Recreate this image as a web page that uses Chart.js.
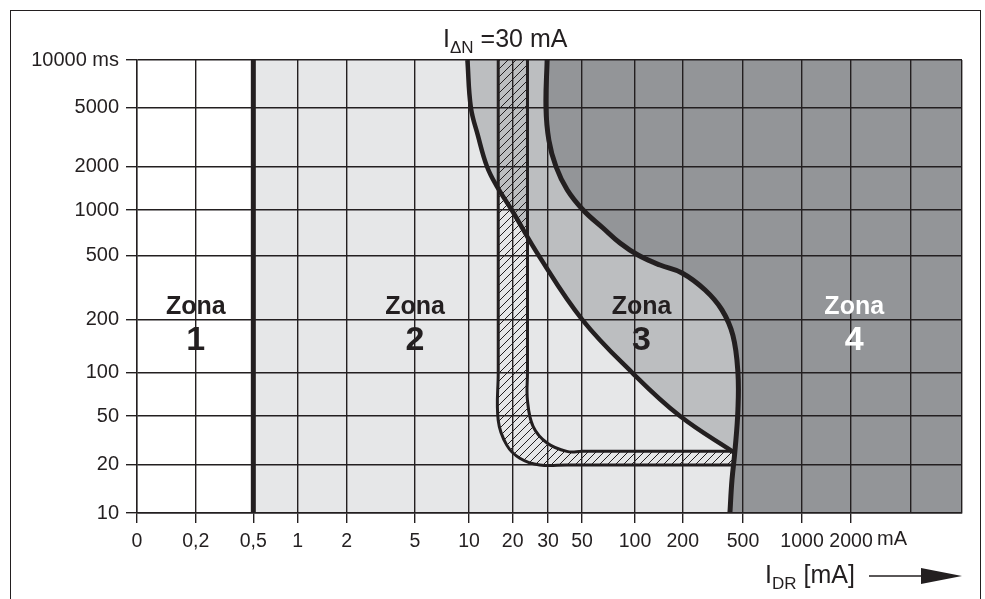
<!DOCTYPE html>
<html>
<head>
<meta charset="utf-8">
<script src="https://cdn.jsdelivr.net/npm/chart.js@4.4.1/dist/chart.umd.min.js"></script>
<style>
  html, body { margin: 0; padding: 0; background: #fff; overflow: hidden; }
  #wrap { position: relative; width: 985px; height: 599px; }
  #frame { position: absolute; left: 10px; top: 10px; width: 971px; height: 620px;
           border: 1.5px solid #231f20; box-sizing: border-box; }
  #c { position: absolute; left: 0; top: 0; }
  .lbl { position: absolute; font-family: "Liberation Sans", Arial, sans-serif; color: #231f20;
         white-space: nowrap; font-size: 25px; line-height: 25px; }
  .lbl .s { font-size: 17px; position: relative; top: 6px; }
</style>
</head>
<body>
<div id="wrap">
  <div id="frame"></div>
  <canvas id="c" width="985" height="599"></canvas>
  <div class="lbl" id="title" style="left:443px; top:26px;">I<span class="s">ΔN</span> =30 mA</div>
  <div class="lbl" id="xtitle" style="left:765px; top:562px;">I<span class="s">DR</span> [mA]</div>
</div>
<script>
// axis ticks (mA on x, ms on y)
const xTicks = [0, 0.2, 0.5, 1, 2, 5, 10, 20, 30, 50, 100, 200, 500, 1000, 2000, 5000, 10000];
const xLabels = ['0', '0,2', '0,5', '1', '2', '5', '10', '20', '30', '50', '100', '200', '500', '1000', '2000', '', ''];
const xUnit = 'mA';
const yTicks = [10, 20, 50, 100, 200, 500, 1000, 2000, 5000, 10000];
const yLabels = ['10', '20', '50', '100', '200', '500', '1000', '2000', '5000', '10000 ms'];

// zone 1 / zone 2 limit
const zoneLimit = 0.5;

// boundary zone 2 / zone 3
const curveB = [
  {x: 9.8, y: 10000}, {x: 10.3, y: 5000}, {x: 11.5, y: 3250}, {x: 13.3, y: 2000},
  {x: 15.6, y: 1450}, {x: 19.7, y: 1000}, {x: 27, y: 500}, {x: 50, y: 200},
  {x: 96, y: 100}, {x: 192, y: 50}, {x: 443, y: 25}
];

// boundary zone 3 / zone 4
const curveC = [
  {x: 29.7, y: 10000}, {x: 29.3, y: 5000}, {x: 30.4, y: 3000}, {x: 33.8, y: 2000},
  {x: 40, y: 1380}, {x: 50.7, y: 1000}, {x: 65.8, y: 761}, {x: 82.2, y: 606},
  {x: 104.4, y: 505}, {x: 143.8, y: 437}, {x: 197.9, y: 390}, {x: 281, y: 305},
  {x: 363, y: 229}, {x: 429, y: 162}, {x: 463, y: 100}, {x: 463, y: 55},
  {x: 443, y: 26.4}, {x: 423, y: 16.1}, {x: 410, y: 10}
];

// hatched band (tripping range of the 30 mA device)
const bandOuter = [
  {x: 15.9, y: 10000}, {x: 15.9, y: 100}, {x: 15.9, y: 46}, {x: 18.2, y: 29},
  {x: 21.7, y: 22.7}, {x: 27.3, y: 20}, {x: 40, y: 20}, {x: 100, y: 20}, {x: 440, y: 20}
];
const bandInner = [
  {x: 23.7, y: 10000}, {x: 23.7, y: 100}, {x: 23.7, y: 64}, {x: 25.3, y: 41},
  {x: 29.8, y: 30}, {x: 39.8, y: 25.8}, {x: 50, y: 25.8}, {x: 100, y: 25.8}, {x: 440, y: 25.8}
];

const zoneNames = ['1', '2', '3', '4'];
const zoneLabelX = [0.2, 5, 110, 2100];
const zoneLabelY = 200;

const ink = '#231f20';
const family = '"Liberation Sans", Arial, sans-serif';
const grays = { zone2: '#e6e7e8', zone3: '#bcbec0', zone4: '#939598' };

// scale that follows the printed (uneven) grid of the original chart
class GridMapScale extends Chart.LinearScale {
  static id = 'gridmap';
  static defaults = {};

  determineDataLimits() {
    const v = this.options.values;
    this.min = v[0];
    this.max = v[v.length - 1];
  }

  buildTicks() {
    return this.options.values.map(value => ({ value }));
  }

  mapValue(value) {
    const v = this.options.values, p = this.options.positions;
    let i = 0;
    while (i < v.length - 2 && value > v[i + 1]) i++;
    const a = v[i], b = v[i + 1];
    const t = a > 0 ? Math.log(value / a) / Math.log(b / a) : (value - a) / (b - a);
    return p[i] + t * (p[i + 1] - p[i]);
  }

  getPixelForValue(value) {
    return this.getPixelForDecimal(this.mapValue(value));
  }
}
Chart.register(GridMapScale);

function hatchPattern() {
  const c = document.createElement('canvas');
  c.width = 8; c.height = 8;
  const g = c.getContext('2d');
  g.strokeStyle = ink;
  g.lineWidth = 1;
  g.beginPath();
  g.moveTo(-1, 9); g.lineTo(9, -1);
  g.stroke();
  return g.createPattern(c, 'repeat');
}

// closed shapes for the zone fills (corner points doubled so they stay sharp)
const last = arr => arr[arr.length - 1];
const zone2Shape = [{x: zoneLimit, y: 10}, {x: zoneLimit, y: 10000}, {x: 10000, y: 10000}, {x: 10000, y: 10}];
const zone3Shape = [...curveB, last(curveB), {x: 10000, y: 25}, {x: 10000, y: 10000}];
const zone4Shape = [...curveC, last(curveC), {x: 10000, y: 10}, {x: 10000, y: 10000}];
const bandShape = [...bandOuter, last(bandOuter), last(bandInner), ...bandInner.slice().reverse()];

function stroke(data, width, order, tension) {
  return {
    data, order, borderColor: ink, borderWidth: width, showLine: true,
    pointRadius: 0, tension: tension, fill: false, clip: 0
  };
}
function area(data, color, order, tension) {
  return {
    data, order, backgroundColor: color, borderColor: 'rgba(0,0,0,0)', borderWidth: 0,
    showLine: true, pointRadius: 0, tension: tension, fill: 'shape', clip: 0
  };
}

const overlay = {
  id: 'overlay',
  afterDraw(chart) {
    const { ctx, chartArea } = chart;
    const x = chart.scales.x, y = chart.scales.y;
    ctx.save();
    ctx.textAlign = 'center';
    ctx.textBaseline = 'alphabetic';
    zoneNames.forEach((name, i) => {
      const px = x.getPixelForValue(zoneLabelX[i]);
      const py = y.getPixelForValue(zoneLabelY);
      ctx.fillStyle = i === 3 ? '#ffffff' : ink;
      ctx.font = 'bold 25px ' + family;
      ctx.fillText('Zona', px, py - 5);
      ctx.font = 'bold 34px ' + family;
      ctx.fillText(name, px, py + 31);
    });

    // unit written after the last tick label
    ctx.fillStyle = ink;
    ctx.font = '20px ' + family;
    ctx.textAlign = 'left';
    ctx.textBaseline = 'top';
    ctx.fillText(xUnit, x.getPixelForValue(2000) + 26, x.top + x.options.grid.tickLength + x.options.ticks.padding - 1);

    // arrow next to the axis title
    const ay = 576, r = chartArea.right;
    ctx.strokeStyle = ink;
    ctx.lineWidth = 1.5;
    ctx.beginPath();
    ctx.moveTo(r - 93, ay); ctx.lineTo(r - 38, ay);
    ctx.stroke();
    ctx.beginPath();
    ctx.moveTo(r - 41, ay - 8); ctx.lineTo(r, ay); ctx.lineTo(r - 41, ay + 8);
    ctx.closePath();
    ctx.fill();
    ctx.restore();
  }
};

Chart.defaults.font.family = family;
Chart.defaults.color = ink;

const gridOpts = { color: ink, lineWidth: 1.4, tickWidth: 1.4, z: 1 };

new Chart(document.getElementById('c'), {
  type: 'scatter',
  data: {
    datasets: [
      stroke([{x: zoneLimit, y: 10}, {x: zoneLimit, y: 10000}], 5, 0, 0),
      stroke(curveC, 5, 1, 0.4),
      stroke(curveB, 4.5, 2, 0.4),
      stroke(bandOuter, 3, 3, 0.4),
      stroke(bandInner, 3, 4, 0.4),
      area(bandShape, hatchPattern(), 5, 0.4),
      area(zone4Shape, grays.zone4, 6, 0.4),
      area(zone3Shape, grays.zone3, 7, 0.4),
      area(zone2Shape, grays.zone2, 8, 0)
    ]
  },
  options: {
    responsive: false,
    animation: false,
    events: [],
    layout: { padding: { left: 0, top: 60, right: 23, bottom: 46 } },
    plugins: { legend: { display: false }, tooltip: { enabled: false } },
    scales: {
      x: {
        type: 'gridmap',
        values: xTicks,
        positions: [0, 0.0712, 0.141, 0.1948, 0.2542, 0.337, 0.4024, 0.4554, 0.4982,
                    0.5394, 0.6036, 0.6615, 0.7345, 0.8061, 0.8655, 0.9382, 1],
        afterFit: s => { s.height = 40; },
        grid: Object.assign({}, gridOpts, {
          tickLength: 10,
          tickColor: c => (c.index > 14 ? 'rgba(0,0,0,0)' : ink)
        }),
        border: { color: ink, width: 1.4, z: 1 },
        ticks: {
          autoSkip: false, maxRotation: 0, padding: 7, z: 1,
          font: { size: 19.5 }, color: ink,
          callback: (v, i) => xLabels[i]
        }
      },
      y: {
        type: 'gridmap',
        values: yTicks,
        positions: [0, 0.106, 0.2141, 0.3106, 0.4276, 0.568, 0.6689, 0.7649, 0.8956, 1],
        afterFit: s => { s.width = 137; },
        grid: Object.assign({}, gridOpts, { tickLength: 11, tickColor: ink }),
        border: { color: ink, width: 1.4, z: 1 },
        ticks: {
          autoSkip: false, padding: 7, z: 1,
          font: { size: 20 }, color: ink,
          callback: (v, i) => yLabels[i]
        }
      }
    }
  },
  plugins: [overlay]
});
</script>
</body>
</html>
